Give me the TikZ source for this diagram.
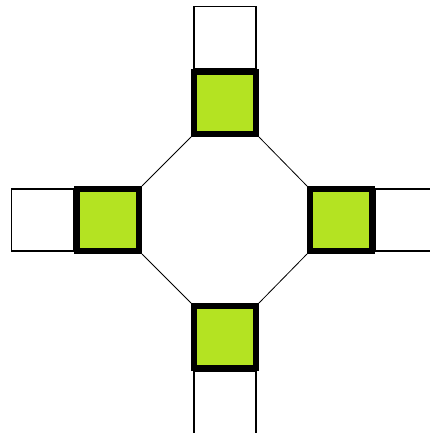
\documentclass[tikz,border=0pt]{standalone}
\usetikzlibrary{positioning}
\definecolor{lima}{HTML}{B4E322}
\begin{document}
\begin{tikzpicture}[x=1pt, y=-1pt,
  porta/.style={draw, line width=6pt, fill=lima, minimum size=62pt, inner sep=0pt},
  caixa/.style={draw, line width=1.4pt, fill=white, minimum width=62pt, minimum height=62pt, inner sep=0pt}]
  \useasboundingbox (0,0) rectangle (429,433);
  % portas
  \node[porta] (pN) at (225,103) {};
  \node[porta] (pS) at (225,337) {};
  \node[porta] (pW) at (108,220) {};
  \node[porta] (pE) at (341,220) {};
  % caixas
  \node[caixa, above=0pt of pN] (cN) {};
  \node[caixa, below=0pt of pS] (cS) {};
  \node[caixa, left=0pt of pW] (cW) {};
  \node[caixa, right=0pt of pE] (cE) {};
  % ligacoes
  \draw[line width=0.8pt] (pN.south west) -- (pW.north east);
  \draw[line width=0.8pt] (pN.south east) -- (pE.north west);
  \draw[line width=0.8pt] (pS.north west) -- (pW.south east);
  \draw[line width=0.8pt] (pS.north east) -- (pE.south west);
\end{tikzpicture}
\end{document}
